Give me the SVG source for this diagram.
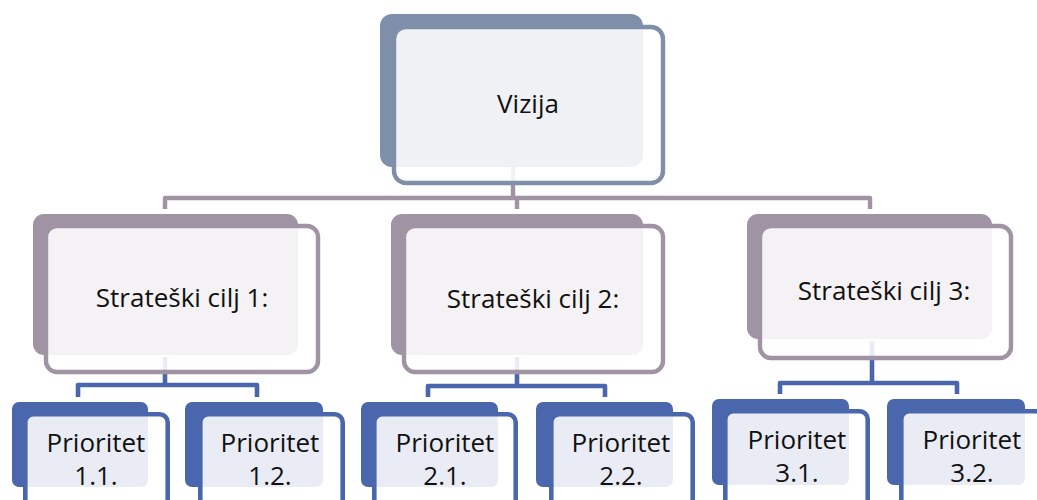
<svg xmlns="http://www.w3.org/2000/svg" width="1037" height="500" viewBox="0 0 1037 500">
<style>
  .t { font-family: "Open Sans", "Noto Sans", "Liberation Sans", sans-serif; font-size: 26px; fill: #111; text-anchor: middle; }
  .front { fill: #fff; fill-opacity: 0.88; stroke-width: 4.4; }
  .vb { fill: #7F8FA9; }
  .vf { stroke: #7F8FA9; }
  .cb { fill: #A093A3; }
  .cf { stroke: #A093A3; }
  .pb { fill: #4A67AE; }
  .pf { stroke: #4A67AE; stroke-width: 4.6; }
  .c1 { fill: none; stroke: #A093A3; stroke-width: 4.4; stroke-linejoin: round; }
  .c2 { fill: none; stroke: #4A67AE; stroke-width: 4.6; stroke-linejoin: round; }
</style>
<rect width="1037" height="500" fill="#fff"/>
<g id="connectors">
  <path class="c1" d="M513 167 V198 M165 209 V198 H870 V209 M517 198 V209"/>
  <path class="c2" d="M165 357 V385 M78 397 V385 H257 V397"/>
  <path class="c2" d="M517 357 V386 M428 397 V386 H605 V397"/>
  <path class="c2" d="M872 341 V383 M780 394 V383 H957 V394"/>
</g>
<g id="vizija">
  <rect class="vb" x="380" y="14" width="263" height="153" rx="12"/>
  <rect class="front vf" x="394" y="27" width="269" height="156" rx="12"/>
  <text class="t" x="528" y="113">Vizija</text>
</g>
<g id="cilj1">
  <rect class="cb" x="33" y="214" width="265" height="141" rx="11"/>
  <rect class="front cf" x="46" y="226" width="272" height="146" rx="11"/>
  <text class="t" x="182" y="307">Strateški cilj 1:</text>
</g>
<g id="cilj2">
  <rect class="cb" x="391" y="214" width="252" height="141" rx="11"/>
  <rect class="front cf" x="404" y="226" width="259" height="146" rx="11"/>
  <text class="t" x="533" y="308">Strateški cilj 2:</text>
</g>
<g id="cilj3">
  <rect class="cb" x="747" y="214" width="245" height="125" rx="11"/>
  <rect class="front cf" x="760" y="226" width="251" height="132" rx="11"/>
  <text class="t" x="884" y="300">Strateški cilj 3:</text>
</g>
<g id="p11">
  <rect class="pb" x="12" y="402" width="136" height="85" rx="7"/>
  <rect class="front pf" x="25.3" y="414.3" width="142.4" height="110" rx="8"/>
  <text class="t" x="96" y="452">Prioritet</text>
  <text class="t" x="96" y="485">1.1.</text>
</g>
<g id="p12">
  <rect class="pb" x="185" y="402" width="138" height="85" rx="7"/>
  <rect class="front pf" x="200.3" y="414.3" width="142.4" height="110" rx="8"/>
  <text class="t" x="270" y="452">Prioritet</text>
  <text class="t" x="270" y="485">1.2.</text>
</g>
<g id="p21">
  <rect class="pb" x="361" y="402" width="137" height="85" rx="7"/>
  <rect class="front pf" x="374.3" y="414.3" width="141.4" height="110" rx="8"/>
  <text class="t" x="445" y="452">Prioritet</text>
  <text class="t" x="445" y="485">2.1.</text>
</g>
<g id="p22">
  <rect class="pb" x="536" y="402" width="137" height="85" rx="7"/>
  <rect class="front pf" x="551.3" y="414.3" width="141.4" height="110" rx="8"/>
  <text class="t" x="621" y="452">Prioritet</text>
  <text class="t" x="621" y="485">2.2.</text>
</g>
<g id="p31">
  <rect class="pb" x="712" y="399" width="137" height="86" rx="7"/>
  <rect class="front pf" x="725.3" y="411.3" width="142.4" height="110" rx="8"/>
  <text class="t" x="797" y="449">Prioritet</text>
  <text class="t" x="797" y="482">3.1.</text>
</g>
<g id="p32">
  <rect class="pb" x="887" y="399" width="138" height="86" rx="7"/>
  <rect class="front pf" x="901.3" y="411.3" width="142.4" height="110" rx="8"/>
  <text class="t" x="972" y="449">Prioritet</text>
  <text class="t" x="972" y="482">3.2.</text>
</g>
</svg>
